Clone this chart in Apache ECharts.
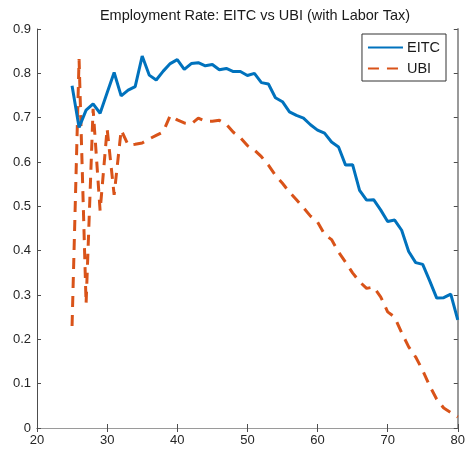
<!DOCTYPE html>
<html>
<head>
<meta charset="utf-8">
<script src="https://cdn.jsdelivr.net/npm/echarts@6/dist/echarts.min.js"></script>
<style>
  html, body { margin: 0; padding: 0; background: #fff; }
  #chart { width: 468px; height: 454px; }
</style>
</head>
<body>
<div id="chart"></div>
<script>
// Age axis (years) and employment rates for the two policy regimes
const ages = [25,26,27,28,29,30,31,32,33,34,35,36,37,38,39,40,41,42,43,44,45,46,47,48,49,50,
  51,52,53,54,55,56,57,58,59,60,61,62,63,64,65,66,67,68,69,70,71,72,73,74,75,76,77,78,79,80];

const eitc = [0.772,0.678,0.717,0.731,0.710,0.756,0.802,0.749,0.762,0.770,0.839,0.796,0.785,0.805,0.822,
  0.831,0.809,0.822,0.824,0.817,0.820,0.808,0.811,0.804,0.804,0.795,0.800,0.779,0.776,0.745,0.736,
  0.713,0.705,0.699,0.684,0.672,0.665,0.645,0.634,0.593,0.594,0.536,0.514,0.515,0.492,0.466,0.469,
  0.446,0.398,0.373,0.369,0.332,0.293,0.294,0.302,0.244];

const ubi = [0.230,0.832,0.280,0.720,0.490,0.675,0.526,0.672,0.638,0.640,0.643,0.652,0.660,0.668,0.705,
  0.695,0.688,0.686,0.699,0.692,0.692,0.694,0.685,0.667,0.655,0.637,0.627,0.612,0.593,0.570,0.552,
  0.532,0.515,0.497,0.478,0.465,0.437,0.425,0.397,0.374,0.350,0.330,0.315,0.318,0.296,0.262,0.250,
  0.215,0.183,0.160,0.130,0.095,0.065,0.045,0.035,0.025];

const xTicks = [20, 30, 40, 50, 60, 70, 80];
const yTicks = [0, 0.1, 0.2, 0.3, 0.4, 0.5, 0.6, 0.7, 0.8, 0.9];

const pair = (xs, ys) => xs.map((x, i) => [x, ys[i]]);

const font = 'Liberation Sans, Arial, sans-serif';
const axisCol = '#4d4d4d';
const boxCol = '#9a9a9a';

const chart = echarts.init(document.getElementById('chart'), null, { renderer: 'canvas' });

chart.setOption({
  backgroundColor: '#ffffff',
  animation: false,
  title: {
    text: 'Employment Rate: EITC vs UBI (with Labor Tax)',
    left: 250, top: 3, textAlign: 'center',
    textStyle: { fontFamily: font, fontSize: 14.5, fontWeight: 'normal', color: '#1a1a1a' }
  },
  grid: { left: 37, right: 10, top: 29, bottom: 26, containLabel: false },
  legend: {
    right: 22, top: 34,
    orient: 'vertical',
    backgroundColor: '#fff',
    borderColor: '#333', borderWidth: 1, borderRadius: 0,
    padding: [6, 6, 5, 5],
    itemGap: 6,
    itemWidth: 35, itemHeight: 12,
    itemStyle: { color: 'transparent', borderWidth: 0, opacity: 0 },
    textStyle: { fontFamily: font, fontSize: 14.5, color: '#1a1a1a', padding: [0, 0, 0, -1] },
    data: ['EITC', 'UBI']
  },
  xAxis: [{
    type: 'value', min: xTicks[0], max: xTicks[xTicks.length - 1], interval: 10,
    axisLine: { show: true, lineStyle: { color: axisCol, width: 1 } },
    axisTick: { show: true, inside: true, length: 4, lineStyle: { color: axisCol } },
    axisLabel: { fontFamily: font, fontSize: 13, color: '#262626', margin: 6 },
    splitLine: { show: false }
  }, {
    type: 'value', position: 'top', min: xTicks[0], max: xTicks[xTicks.length - 1], interval: 10,
    axisLine: { show: true, lineStyle: { color: boxCol, width: 1 } },
    axisTick: { show: true, inside: true, length: 4, lineStyle: { color: axisCol } },
    axisLabel: { show: false },
    splitLine: { show: false }
  }],
  yAxis: [{
    type: 'value', min: yTicks[0], max: yTicks[yTicks.length - 1], interval: 0.1,
    axisLine: { show: true, lineStyle: { color: axisCol, width: 1 } },
    axisTick: { show: true, inside: true, length: 4, lineStyle: { color: axisCol } },
    axisLabel: {
      fontFamily: font, fontSize: 13, color: '#262626', margin: 6,
      formatter: v => (Math.round(v * 10) / 10).toString()
    },
    splitLine: { show: false }
  }, {
    type: 'value', position: 'right', min: yTicks[0], max: yTicks[yTicks.length - 1], interval: 0.1,
    axisLine: { show: true, lineStyle: { color: boxCol, width: 2 } },
    axisTick: { show: true, inside: true, length: 4, lineStyle: { color: axisCol } },
    axisLabel: { show: false },
    splitLine: { show: false }
  }],
  series: [{
    name: 'EITC', type: 'line',
    data: pair(ages, eitc),
    showSymbol: false, symbol: 'none',
    lineStyle: { color: '#0072BD', width: 3 },
    itemStyle: { color: '#0072BD' },
    z: 3
  }, {
    name: 'UBI', type: 'line',
    data: pair(ages, ubi),
    showSymbol: false, symbol: 'none',
    lineStyle: { color: '#D95319', width: 3, type: [11, 8] },
    itemStyle: { color: '#D95319' },
    z: 2
  }]
});
</script>
</body>
</html>
